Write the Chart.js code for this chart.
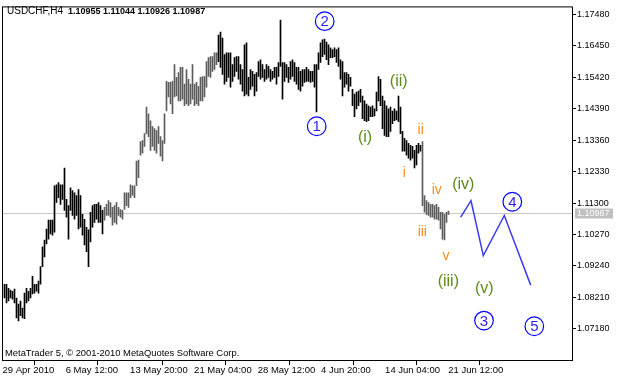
<!DOCTYPE html>
<html><head><meta charset="utf-8">
<style>html,body{margin:0;padding:0;background:#fff;overflow:hidden}#wrap{width:625px;height:381px;position:relative}</style>
<script src="https://cdn.jsdelivr.net/npm/chart.js@4.4.1/dist/chart.umd.min.js"></script>
</head><body><div id="wrap"><canvas id="c" width="625" height="381"></canvas></div>
<script>
const symbolTitle = 'USDCHF,H4';
const lastBarOHLC = ['1.10955', '1.11044', '1.10926', '1.10987'];
const copyrightText = 'MetaTrader 5, \u00A9 2001-2010 MetaQuotes Software Corp.';
const lastPrice = 1.10987;

const barHigh = [
1.0864,1.0864,1.0851,1.0845,1.0841,1.0848,1.0819,1.0799,1.0809,1.0786,
1.0835,1.0851,1.0841,1.0851,1.0890,1.0864,1.0864,1.0874,1.0922,1.0987,
1.1009,1.1045,1.1074,1.1074,1.1074,1.1187,1.1190,1.1197,1.1190,1.1190,
1.1245,1.1142,1.1122,1.1180,1.1171,1.1164,1.1155,1.1174,1.1155,1.1093,
1.1077,1.1051,1.1042,1.1100,1.1122,1.1126,1.1126,1.1132,1.1122,1.1106,
1.1116,1.1126,1.1138,1.1132,1.1116,1.1122,1.1132,1.1116,1.1109,1.1106,
1.1164,1.1164,1.1164,1.1190,1.1187,1.1187,1.1268,1.1271,1.1332,1.1335,
1.1358,1.1445,1.1423,1.1400,1.1381,1.1374,1.1368,1.1381,1.1348,1.1335,
1.1423,1.1529,1.1526,1.1526,1.1529,1.1584,1.1542,1.1558,1.1575,1.1575,
1.1520,1.1568,1.1536,1.1520,1.1584,1.1520,1.1526,1.1513,1.1542,1.1545,
1.1545,1.1594,1.1607,1.1610,1.1610,1.1623,1.1623,1.1681,1.1691,1.1671,
1.1617,1.1623,1.1623,1.1623,1.1584,1.1607,1.1610,1.1610,1.1584,1.1568,
1.1649,1.1655,1.1542,1.1568,1.1562,1.1552,1.1558,1.1594,1.1600,1.1584,
1.1568,1.1584,1.1578,1.1568,1.1562,1.1575,1.1575,1.1591,1.1730,1.1591,
1.1591,1.1584,1.1575,1.1594,1.1600,1.1591,1.1575,1.1575,1.1562,1.1568,
1.1568,1.1575,1.1568,1.1562,1.1562,1.1584,1.1584,1.1623,1.1655,1.1665,
1.1668,1.1658,1.1649,1.1639,1.1633,1.1639,1.1633,1.1639,1.1600,1.1594,
1.1558,1.1558,1.1552,1.1542,1.1503,1.1487,1.1494,1.1497,1.1503,1.1481,
1.1465,1.1455,1.1449,1.1445,1.1449,1.1439,1.1494,1.1545,1.1536,1.1481,
1.1465,1.1449,1.1439,1.1445,1.1432,1.1439,1.1432,1.1481,1.1445,1.1365,
1.1342,1.1335,1.1326,1.1319,1.1316,1.1303,1.1319,1.1326,1.1319,1.1332,
1.1155,1.1138,1.1132,1.1126,1.1126,1.1122,1.1126,1.1116,1.1100,1.1100,
1.1093,1.1100,1.1104
];
const barLow = [
1.0819,1.0803,1.0809,1.0819,1.0815,1.0803,1.0754,1.0744,1.0761,1.0754,
1.0751,1.0803,1.0809,1.0819,1.0832,1.0835,1.0841,1.0835,1.0864,1.0922,
1.0954,1.0996,1.1012,1.1029,1.1025,1.1035,1.1132,1.1148,1.1126,1.1142,
1.1106,1.1084,1.1012,1.1106,1.1090,1.1077,1.1090,1.1045,1.1051,1.1025,
1.0993,1.0971,1.0922,1.1003,1.1051,1.1067,1.1077,1.1067,1.1067,1.1029,
1.1074,1.1090,1.1090,1.1084,1.1058,1.1067,1.1061,1.1090,1.1084,1.1077,
1.1109,1.1122,1.1116,1.1148,1.1155,1.1148,1.1187,1.1213,1.1287,1.1294,
1.1316,1.1358,1.1348,1.1303,1.1316,1.1303,1.1294,1.1326,1.1284,1.1268,
1.1326,1.1432,1.1478,1.1455,1.1423,1.1478,1.1481,1.1465,1.1465,1.1471,
1.1449,1.1455,1.1449,1.1455,1.1471,1.1449,1.1455,1.1449,1.1465,1.1465,
1.1478,1.1510,1.1545,1.1542,1.1562,1.1568,1.1584,1.1594,1.1575,1.1552,
1.1520,1.1529,1.1542,1.1510,1.1529,1.1545,1.1562,1.1536,1.1520,1.1497,
1.1481,1.1487,1.1481,1.1503,1.1513,1.1481,1.1497,1.1545,1.1536,1.1542,
1.1529,1.1536,1.1542,1.1529,1.1536,1.1542,1.1520,1.1545,1.1578,1.1471,
1.1529,1.1542,1.1526,1.1536,1.1545,1.1529,1.1520,1.1503,1.1497,1.1513,
1.1526,1.1529,1.1529,1.1526,1.1529,1.1510,1.1429,1.1568,1.1591,1.1610,
1.1617,1.1600,1.1584,1.1607,1.1607,1.1610,1.1591,1.1578,1.1536,1.1481,
1.1510,1.1520,1.1497,1.1513,1.1449,1.1413,1.1439,1.1449,1.1461,1.1407,
1.1400,1.1397,1.1400,1.1413,1.1413,1.1416,1.1432,1.1465,1.1449,1.1374,
1.1352,1.1348,1.1348,1.1365,1.1390,1.1400,1.1403,1.1397,1.1358,1.1300,
1.1300,1.1287,1.1277,1.1271,1.1277,1.1245,1.1255,1.1294,1.1300,1.1122,
1.1100,1.1093,1.1090,1.1084,1.1084,1.1077,1.1077,1.1074,1.1045,1.1012,
1.1009,1.1067,1.1093
];

const priceTicks = [1.07180,1.08210,1.09240,1.10270,1.11300,1.12330,1.13360,1.14390,1.15420,1.16450,1.17480];
const timeTickPos = [-1, 30.6, 62.8, 94.8, 126.6, 158.3, 190.3, 221.9];
const timeTickLabels = ['29 Apr 2010','6 May 12:00','13 May 20:00','21 May 04:00','28 May 12:00','4 Jun 20:00','14 Jun 04:00','21 Jun 12:00'];

const projX = [228.1, 233.25, 239.4, 249.9, 263.1];
const projY = [1.10838, 1.11378, 1.09579, 1.10893, 1.08611];

const waveText = ['1','2','3','4','5','(i)','(ii)','(iii)','(iv)','(v)','i','ii','iii','iv','v'];
const waveX = [156.1,160.1,239.75,253.9,264.9,180.25,197.1,221.9,229.4,239.9,199.9,208.1,208.9,216.1,220.75];
const waveY = [1.13819,1.17264,1.07448,1.11345,1.07264,1.13454,1.15284,1.08740,1.11914,1.08504,1.12291,1.13689,1.10354,1.11733,1.09547];
const waveDegree = ['primary','primary','primary','primary','primary','inter','inter','inter','inter','inter','minor','minor','minor','minor','minor'];

const FONT = 'Liberation Sans, Arial, sans-serif';

const overlay = {
  id: 'overlay',
  beforeDatasetsDraw(chart) {
    const {ctx, chartArea: a, scales: {y}} = chart;
    const py = Math.round(y.getPixelForValue(lastPrice)) + 0.5;
    ctx.save();
    ctx.strokeStyle = '#c8c8c8'; ctx.lineWidth = 1;
    ctx.beginPath(); ctx.moveTo(a.left, py); ctx.lineTo(a.right, py); ctx.stroke();
    ctx.restore();
  },
  afterDatasetsDraw(chart) {
    const {ctx, scales: {x, y}} = chart;
    ctx.save();
    ctx.textAlign = 'center'; ctx.textBaseline = 'middle';
    for (let k = 0; k < waveText.length; k++) {
      const px = x.getPixelForValue(waveX[k]);
      const py = y.getPixelForValue(waveY[k]);
      const d = waveDegree[k];
      if (d === 'primary') {
        ctx.strokeStyle = '#0000ff'; ctx.lineWidth = 1.2;
        ctx.beginPath(); ctx.arc(px, py, 9.3, 0, Math.PI * 2); ctx.stroke();
        ctx.fillStyle = '#2a1ee6'; ctx.font = '15px ' + FONT;
        ctx.fillText(waveText[k], px, py + 1);
      } else if (d === 'inter') {
        ctx.fillStyle = '#5e8a1c'; ctx.font = '16px ' + FONT;
        ctx.fillText(waveText[k], px, py);
      } else {
        ctx.fillStyle = '#ff8a1e'; ctx.font = '14px ' + FONT;
        ctx.fillText(waveText[k], px, py);
      }
    }
    ctx.restore();
  },
  afterDraw(chart) {
    const {ctx, chartArea: a, scales: {y}} = chart;
    ctx.save();
    ctx.strokeStyle = '#000'; ctx.lineWidth = 1;
    ctx.strokeRect(a.left + 0.5, a.top + 0.5, a.right - a.left - 1, a.bottom - a.top - 1);
    // header
    ctx.fillStyle = '#000'; ctx.textBaseline = 'alphabetic'; ctx.textAlign = 'left';
    ctx.font = '10px ' + FONT;
    ctx.fillText(symbolTitle, 7, 14);
    ctx.font = 'bold 9px ' + FONT;
    ctx.fillText(lastBarOHLC.join(' '), 68, 14);
    // copyright
    ctx.font = '9.4px ' + FONT;
    ctx.fillText(copyrightText, 5, 356);
    // last price box
    const py = Math.round(y.getPixelForValue(lastPrice)) + 0.5;
    ctx.fillStyle = '#c0c0c0';
    ctx.fillRect(a.right + 2, py - 5, 38, 10);
    ctx.fillStyle = '#ffffff'; ctx.font = '9px ' + FONT; ctx.textBaseline = 'middle';
    ctx.fillText(lastPrice.toFixed(5), a.right + 4, py + 0.5);
    ctx.restore();
  }
};

new Chart(document.getElementById('c'), {
  data: {
    datasets: [
      {
        type: 'bar',
        data: barHigh.map((h, i) => ({x: i, y: [barLow[i], h]})),
        backgroundColor: (c) => {
          const i = c.dataIndex;
          return ((i >= 50 && i <= 106) || i >= 209) ? '#5c5c5c' : '#000000';
        },
        borderWidth: 0,
        barThickness: 1,
        grouped: false
      },
      {
        type: 'line',
        data: projX.map((v, k) => ({x: v, y: projY[k]})),
        borderColor: '#3c3cf0',
        borderWidth: 1.5,
        pointRadius: 0,
        tension: 0,
        fill: false
      }
    ]
  },
  options: {
    responsive: false,
    animation: false,
    devicePixelRatio: 1,
    layout: {padding: {left: 2, top: 1, right: 0, bottom: 0}},
    plugins: {legend: {display: false}, tooltip: {enabled: false}},
    scales: {
      x: {
        type: 'linear', min: -1.25, max: 284.25, offset: false,
        afterBuildTicks: (s) => { s.ticks = timeTickPos.map(v => ({value: v})); },
        afterFit: (s) => { s.height = 20; },
        ticks: {
          autoSkip: false, maxRotation: 0, minRotation: 0, align: 'start', padding: 0,
          color: '#000', font: {family: FONT, size: 9.5},
          callback: (v, idx) => timeTickLabels[idx]
        },
        grid: {drawOnChartArea: false, drawTicks: true, tickLength: 4, color: '#000', lineWidth: 1},
        border: {display: false}
      },
      y: {
        type: 'linear', position: 'right', min: 1.061243, max: 1.17748,
        afterBuildTicks: (s) => { s.ticks = priceTicks.map(v => ({value: v})); },
        afterFit: (s) => { s.width = 52; },
        ticks: {
          padding: 1, color: '#000', font: {family: FONT, size: 9},
          callback: (v) => Number(v).toFixed(5)
        },
        grid: {drawOnChartArea: false, drawTicks: true, tickLength: 3, color: '#000', lineWidth: 1},
        border: {display: false}
      }
    }
  },
  plugins: [overlay]
});
</script>
</body></html>
